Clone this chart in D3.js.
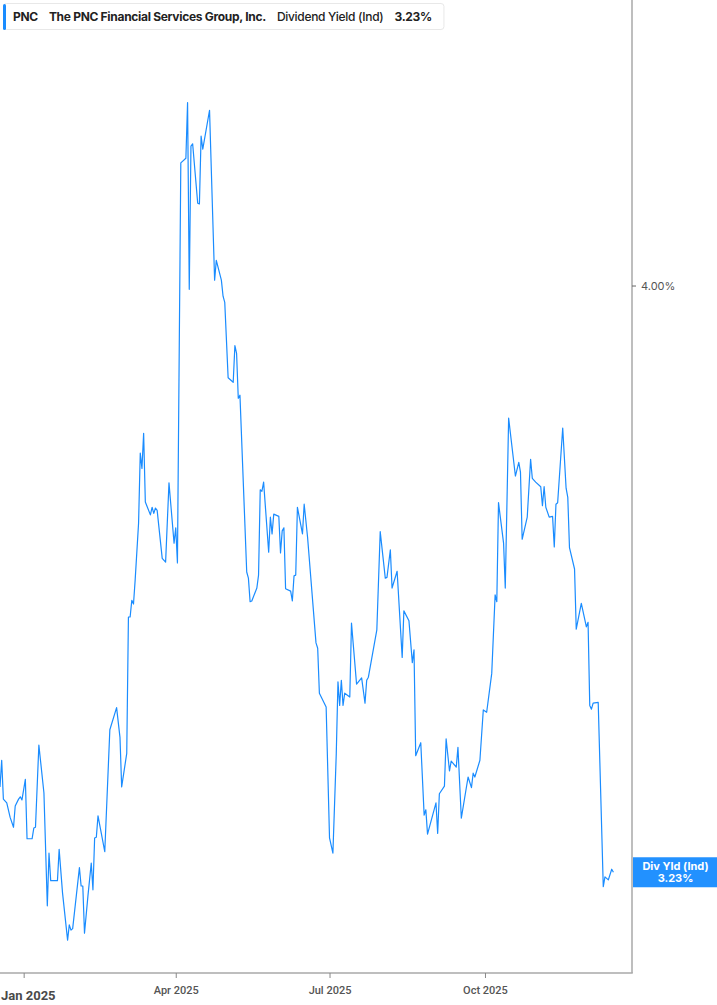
<!DOCTYPE html>
<html>
<head>
<meta charset="utf-8">
<script src="https://cdn.jsdelivr.net/npm/d3@7"></script>
<style>
  html, body { margin: 0; padding: 0; background: #fff; }
  svg { display: block; font-family: Inter, "Noto Sans", sans-serif; }
</style>
</head>
<body>
<svg id="chart" width="717" height="1005"></svg>
<script>
// ---- data ----
const ticker = "PNC";
const company = "The PNC Financial Services Group, Inc.";
const metric = "Dividend Yield (Ind)";
const lastLabel = "3.23%";
const badgeLabel = "Div Yld (Ind)";

const dates = [
"2024-12-18","2024-12-19","2024-12-20","2024-12-22","2024-12-24","2024-12-26","2024-12-27","2024-12-29","2024-12-30","2024-12-31",
"2025-01-02","2025-01-03","2025-01-06","2025-01-07","2025-01-08","2025-01-10","2025-01-13","2025-01-15","2025-01-16","2025-01-17",
"2025-01-21","2025-01-22","2025-01-24","2025-01-27","2025-01-28","2025-01-29","2025-01-30","2025-02-03","2025-02-04","2025-02-05",
"2025-02-06","2025-02-08","2025-02-10","2025-02-11","2025-02-12","2025-02-13","2025-02-14","2025-02-18","2025-02-21","2025-02-25",
"2025-02-27","2025-02-28","2025-03-03","2025-03-04","2025-03-05","2025-03-06","2025-03-07","2025-03-08","2025-03-10","2025-03-11",
"2025-03-12","2025-03-13","2025-03-14","2025-03-17","2025-03-18","2025-03-19","2025-03-20","2025-03-21","2025-03-24","2025-03-26",
"2025-03-28","2025-03-31","2025-04-01","2025-04-02","2025-04-04","2025-04-07","2025-04-08","2025-04-09","2025-04-10","2025-04-11",
"2025-04-14","2025-04-15","2025-04-16","2025-04-17","2025-04-21","2025-04-24","2025-04-25","2025-04-28","2025-04-29","2025-04-30",
"2025-05-02","2025-05-05","2025-05-06","2025-05-07","2025-05-08","2025-05-09","2025-05-13","2025-05-14","2025-05-15","2025-05-16",
"2025-05-19","2025-05-20","2025-05-21","2025-05-22","2025-05-23","2025-05-26","2025-05-27","2025-05-28","2025-05-29","2025-06-01",
"2025-06-02","2025-06-03","2025-06-04","2025-06-05","2025-06-08","2025-06-09","2025-06-10","2025-06-11","2025-06-12","2025-06-15",
"2025-06-16","2025-06-18","2025-06-23","2025-06-24","2025-06-25","2025-06-29","2025-07-01","2025-07-03","2025-07-05","2025-07-06",
"2025-07-07","2025-07-08","2025-07-09","2025-07-10","2025-07-13","2025-07-14","2025-07-17","2025-07-20","2025-07-22","2025-07-23",
"2025-07-24","2025-07-29","2025-07-31","2025-08-03","2025-08-04","2025-08-06","2025-08-07","2025-08-10","2025-08-13","2025-08-14",
"2025-08-17","2025-08-19","2025-08-20","2025-08-21","2025-08-24","2025-08-26","2025-08-27","2025-08-28","2025-09-02","2025-09-03",
"2025-09-04","2025-09-07","2025-09-08","2025-09-10","2025-09-11","2025-09-14","2025-09-15","2025-09-17","2025-09-21","2025-09-23",
"2025-09-24","2025-09-25","2025-09-28","2025-09-30","2025-10-02","2025-10-05","2025-10-07","2025-10-08","2025-10-09","2025-10-12",
"2025-10-13","2025-10-15","2025-10-19","2025-10-21","2025-10-22","2025-10-23","2025-10-26","2025-10-28","2025-10-29","2025-10-31",
"2025-11-03","2025-11-04","2025-11-05","2025-11-06","2025-11-08","2025-11-10","2025-11-11","2025-11-12","2025-11-13","2025-11-16",
"2025-11-18","2025-11-19","2025-11-20","2025-11-23","2025-11-24","2025-11-27","2025-11-30","2025-12-01","2025-12-02","2025-12-03",
"2025-12-04","2025-12-07","2025-12-10","2025-12-11","2025-12-13","2025-12-15","2025-12-16"
];

const yields = [
3.342,3.377,3.326,3.321,3.302,3.289,3.317,3.326,3.329,3.325,
3.352,3.274,3.274,3.288,3.289,3.397,3.334,3.186,3.255,3.219,
3.219,3.260,3.203,3.141,3.161,3.154,3.156,3.236,3.212,3.212,
3.150,3.198,3.242,3.207,3.275,3.276,3.304,3.257,3.417,3.446,
3.407,3.342,3.386,3.565,3.565,3.587,3.582,3.614,3.688,3.780,
3.760,3.806,3.716,3.699,3.709,3.701,3.708,3.705,3.642,3.637,
3.741,3.662,3.682,3.636,4.161,4.167,4.240,3.995,4.183,4.186,
4.108,4.107,4.196,4.179,4.230,4.007,4.033,4.007,3.986,3.978,
3.879,3.873,3.921,3.911,3.852,3.856,3.624,3.616,3.585,3.586,
3.603,3.620,3.732,3.730,3.742,3.650,3.696,3.674,3.700,3.697,
3.649,3.678,3.682,3.602,3.599,3.586,3.619,3.620,3.709,3.674,
3.713,3.670,3.531,3.524,3.465,3.447,3.275,3.255,3.386,3.480,
3.449,3.482,3.449,3.465,3.460,3.557,3.477,3.485,3.452,3.482,
3.486,3.548,3.677,3.616,3.617,3.653,3.603,3.625,3.512,3.573,
3.560,3.505,3.522,3.383,3.400,3.305,3.312,3.280,3.321,3.281,
3.333,3.343,3.405,3.363,3.376,3.368,3.394,3.301,3.355,3.341,
3.360,3.355,3.377,3.443,3.440,3.491,3.594,3.585,3.715,3.662,
3.603,3.826,3.750,3.768,3.755,3.667,3.696,3.772,3.747,3.742,
3.736,3.711,3.736,3.709,3.696,3.697,3.657,3.713,3.715,3.813,
3.734,3.722,3.656,3.628,3.549,3.583,3.552,3.558,3.449,3.444,
3.452,3.453,3.211,3.224,3.220,3.234,3.230
];

const yTickValues = [4.00];
const xTickDates = ["2025-01-01","2025-04-01","2025-07-01","2025-10-01"];
const xDomain = ["2024-12-18","2025-12-27"];
const yDomain = [3.0978, 4.3747];

// ---- drawing ----
const svg = d3.select("#chart");
const W = 717, H = 1005;
const plotRight = 632, plotBottom = 973;
const parse = d3.timeParse("%Y-%m-%d");
const data = dates.map((d, i) => ({ date: parse(d), v: yields[i] }));

const x = d3.scaleTime().domain(xDomain.map(parse)).range([0, plotRight]);
const y = d3.scaleLinear().domain(yDomain).range([plotBottom, 0]);

const lineColor = "#1a8cff";

// line
svg.append("defs").append("clipPath").attr("id", "clip")
  .append("rect").attr("x", 0).attr("y", 0).attr("width", plotRight).attr("height", plotBottom);

svg.append("path")
  .datum(data)
  .attr("clip-path", "url(#clip)")
  .attr("fill", "none")
  .attr("stroke", lineColor)
  .attr("stroke-width", 1.2)
  .attr("stroke-linejoin", "round")
  .attr("d", d3.line().x(d => x(d.date)).y(d => y(d.v)));

// right axis
const yAxis = d3.axisRight(y).tickValues(yTickValues).tickSize(4).tickPadding(5)
  .tickFormat(d => d3.format(".2f")(d) + "%");
const gy = svg.append("g").attr("transform", `translate(${plotRight},0)`).call(yAxis);
gy.select(".domain").attr("stroke", "#a8a8a8").attr("stroke-width", 1.5)
  .attr("d", `M0,0V${plotBottom}`);
gy.selectAll(".tick line").attr("stroke", "#666");
gy.selectAll(".tick text").attr("fill", "#555").style("font-size", "11px")
  .style("font-family", "Inter, sans-serif");

// bottom axis
const xAxis = d3.axisBottom(x).tickValues(xTickDates.map(parse)).tickSize(5).tickPadding(8)
  .tickFormat(d3.timeFormat("%b %Y"));
const gx = svg.append("g").attr("transform", `translate(0,${plotBottom})`).call(xAxis);
gx.select(".domain").attr("stroke", "#a8a8a8").attr("stroke-width", 1.5)
  .attr("d", `M0,0H${plotRight + 0.75}`);
gx.selectAll(".tick line").attr("stroke", "#888");
gx.selectAll(".tick text").attr("fill", "#555").style("font-size", "11px")
  .style("font-family", "Roboto, sans-serif").style("font-weight", "500");
// first (year) label: bold, pinned to left edge
gx.selectAll(".tick").filter((d, i) => i === 0).select("text")
  .style("font-size", "13px").style("font-weight", "700").attr("fill", "#4a4a4a")
  .attr("dy", "1.05em").attr("text-anchor", "start")
  .attr("x", function(d) { return 0.5 - x(d); });

// last value badge
const last = data[data.length - 1];
const by = y(last.v);
const badge = svg.append("g").attr("transform", `translate(${plotRight + 1},${by})`);
badge.append("rect").attr("x", 0).attr("y", -15).attr("width", W - plotRight - 1).attr("height", 30)
  .attr("fill", "#2291ff");
badge.append("text").attr("x", (W - plotRight) / 2).attr("y", -2).attr("text-anchor", "middle")
  .attr("fill", "#fff").style("font-size", "11px").style("font-weight", "700").text(badgeLabel);
badge.append("text").attr("x", (W - plotRight) / 2).attr("y", 10).attr("text-anchor", "middle")
  .attr("fill", "#fff").style("font-size", "11px").style("font-weight", "700").text(lastLabel);

// legend box: items laid out in sequence
const lg = svg.append("g");
const boxRect = lg.append("rect").attr("x", 3.5).attr("y", 3.5).attr("height", 26).attr("rx", 3)
  .attr("fill", "#fff").attr("stroke", "#e8e8e8");
lg.append("rect").attr("x", 3).attr("y", 4).attr("width", 3).attr("height", 26).attr("rx", 1.5)
  .attr("fill", lineColor);
const items = [
  { t: ticker, w: 700 },
  { t: company, w: 700 },
  { t: metric, w: 500 },
  { t: lastLabel, w: 700 }
];
let cx = 13;
items.forEach(it => {
  const t = lg.append("text").attr("x", cx).attr("y", 21).attr("fill", "#222")
    .style("font-size", "12px").style("font-weight", it.w).style("letter-spacing", "-0.3px")
    .text(it.t);
  cx += t.node().getComputedTextLength() + 11;
});
boxRect.attr("width", cx - 3.5 + 1);
</script>
</body>
</html>
